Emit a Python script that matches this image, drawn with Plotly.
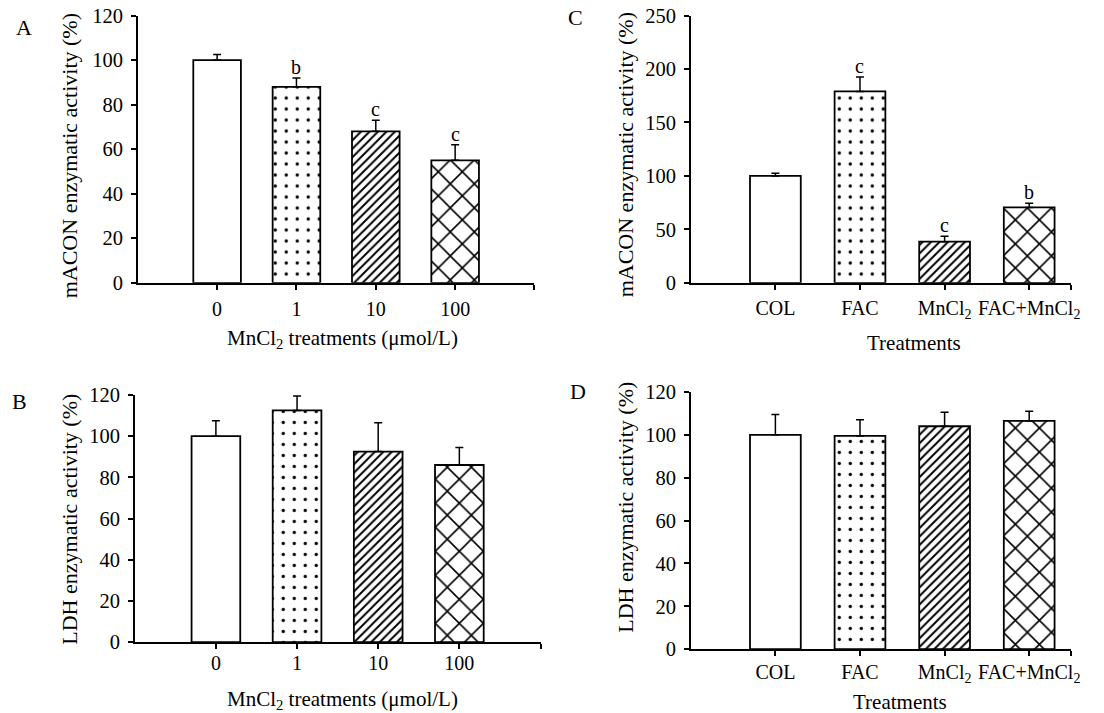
import plotly.graph_objects as go

# ---------------- data ----------------
dose_labels = ["0", "1", "10", "100"]
treat_labels = ["COL", "FAC", "MnCl<sub>2</sub>", "FAC+MnCl<sub>2</sub>"]

a_vals = [100, 88, 68, 55]
a_err = [2.5, 4, 5, 7]
a_letters = ["", "b", "c", "c"]

b_vals = [100, 112.5, 92.5, 86]
b_err = [7.5, 7, 14, 8.5]
b_letters = ["", "", "", ""]

c_vals = [100, 179, 38.5, 70.5]
c_err = [2.5, 13.5, 5, 4]
c_letters = ["", "c", "c", "b"]

d_vals = [100, 99.5, 104, 106.5]
d_err = [9.5, 7.5, 6.5, 4.5]
d_letters = ["", "", "", ""]

positions = [1, 2, 3, 4]
shapes = ["", ".", "/", "x"]
psizes = [8, 11, 6, 17]
psolid = [0.1, 0.07, 0.33, 0.18]

FONT = "Liberation Serif, Times New Roman, serif"
W, H = 1104, 713


# map target screen pixels to figure pixels (empirical capture transform)
def sx(X):
    return (X + 1.5) / 0.99


def sy(Y):
    return (Y - 11.5) / 0.968


fig = go.Figure()

panels = [
    ("", a_vals, a_err, a_letters, dose_labels, (136, 532), (16, 283), 120, 20, 5,
     "mACON enzymatic activity (%)", "MnCl<sub>2</sub> treatments (μmol/L)", (340, 339), "A", (22, 28),
     (68, 156), 2),
    ("3", b_vals, b_err, b_letters, dose_labels, (133, 538), (395, 642), 120, 20, 5,
     "LDH enzymatic activity (%)", "MnCl<sub>2</sub> treatments (μmol/L)", (340, 700), "B", (18, 402),
     (67, 519), -3),
    ("2", c_vals, c_err, c_letters, treat_labels, (688, 1068), (16, 283), 250, 50, 4.5,
     "mACON enzymatic activity (%)", "Treatments", (911, 343), "C", (573, 18),
     (623, 155), 1),
    ("4", d_vals, d_err, d_letters, treat_labels, (688, 1068), (392, 649), 120, 20, 4.5,
     "LDH enzymatic activity (%)", "Treatments", (897, 702), "D", (575, 392),
     (622, 507), -1),
]

annotations = []
layout_axes = {}
for (sfx, vals, err, letters, labels, xd, yd, ymax, dt, xmax,
     ytitle, xtitle, xtp, plet, plp, ytp, xstand) in panels:
    xa = "x" + sfx
    ya = "y" + sfx
    fig.add_trace(go.Bar(
        x=positions, y=vals, width=0.6,
        xaxis=xa, yaxis=ya,
        marker=dict(
            color="white",
            line=dict(color="black", width=1.8),
            pattern=dict(shape=shapes, size=psizes, solidity=psolid,
                         fgcolor="black", fgopacity=1, bgcolor="white",
                         fillmode="overlay"),
        ),
        error_y=dict(type="data", array=err, arrayminus=[0] * len(err),
                     symmetric=False, color="black", thickness=1.5, width=4),
        showlegend=False, hoverinfo="skip",
    ))
    layout_axes["xaxis" + sfx] = dict(
        domain=[sx(xd[0]) / W, sx(xd[1]) / W], anchor=ya, range=[0, xmax],
        tickvals=positions + [xmax], ticktext=labels + [""],
        showline=True, linecolor="black", linewidth=1.5, ticks="outside",
        ticklen=5, tickwidth=1.5, tickcolor="black", showgrid=False, zeroline=False,
        tickfont=dict(family=FONT, size=20, color="black"), ticklabelstandoff=xstand,
        fixedrange=True,
    )
    layout_axes["yaxis" + sfx] = dict(
        domain=[1 - sy(yd[1]) / H, 1 - sy(yd[0]) / H], anchor=xa, range=[0, ymax], dtick=dt,
        showline=True, linecolor="black", linewidth=1.5, ticks="outside",
        ticklen=5, tickwidth=1.5, tickcolor="black", showgrid=False, zeroline=False,
        tickfont=dict(family=FONT, size=20.5, color="black"), ticklabelstandoff=4,
        fixedrange=True,
    )
    for p, v, e, l in zip(positions, vals, err, letters):
        if l:
            annotations.append(dict(x=p, y=v + e, xref=xa, yref=ya, text=l, showarrow=False,
                                    yanchor="bottom", yshift=-2,
                                    font=dict(family=FONT, size=20, color="black")))
    annotations.append(dict(x=sx(ytp[0]) / W, y=1 - sy(ytp[1]) / H,
                            xref="paper", yref="paper",
                            text=ytitle, textangle=-90, showarrow=False,
                            xanchor="center", yanchor="middle",
                            font=dict(family=FONT, size=22, color="black")))
    annotations.append(dict(x=sx(xtp[0]) / W, y=1 - sy(xtp[1]) / H, xref="paper", yref="paper",
                            text=xtitle, showarrow=False, xanchor="center", yanchor="middle",
                            font=dict(family=FONT, size=21, color="black")))
    annotations.append(dict(x=sx(plp[0]) / W, y=1 - sy(plp[1]) / H, xref="paper", yref="paper",
                            text=plet, showarrow=False, xanchor="center", yanchor="middle",
                            font=dict(family=FONT, size=22, color="black")))

fig.update_layout(
    width=W, height=H,
    margin=dict(l=0, r=0, t=0, b=0),
    paper_bgcolor="white", plot_bgcolor="white",
    annotations=annotations,
    **layout_axes,
)

pin_js = (
    "var gd=document.getElementById('{plot_id}');"
    "document.body.style.margin='0';document.body.style.overflow='hidden';"
    "gd.style.position='fixed';gd.style.left='0px';gd.style.top='0px';"
)

fig.write_html("out.html", post_script=pin_js, config={"displayModeBar": False})
